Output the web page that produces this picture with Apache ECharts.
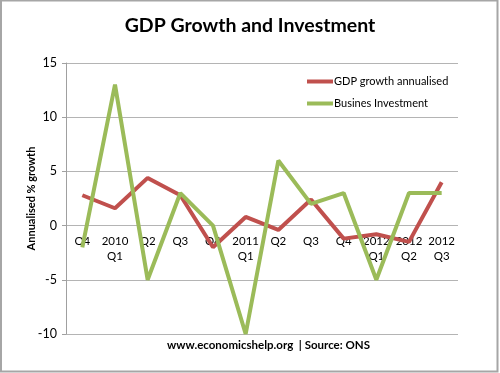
<!DOCTYPE html>
<html><head><meta charset="utf-8">
<script src="https://cdn.jsdelivr.net/npm/echarts@6/dist/echarts.min.js"></script>
<style>html,body{margin:0;padding:0;background:#fff}#c{width:500px;height:373px}</style>
</head><body><div id="c"></div>
<script>
var categories = ['Q4','2010\nQ1','Q2','Q3','Q4','2011\nQ1','Q2','Q3','Q4','2012\nQ1','2012\nQ2','2012\nQ3'];
var gdpGrowth = [2.8, 1.6, 4.4, 2.8, -2.0, 0.8, -0.4, 2.4, -1.2, -0.8, -1.5, 4.0];
var businessInvestment = [-2, 13, -5, 3, 0, -10, 6, 2, 3, -5, 3, 3];
var yTicks = [-10, -5, 0, 5, 10, 15];
var FONT = 'Lato, "Open Sans", sans-serif';
var GRID_TOP = 63, GRID_BOTTOM = 39, H = 373;
var chart = echarts.init(document.getElementById('c'));
var option = {
  animation: false,
  backgroundColor: '#fff',
  graphic: [
    {type:'rect', shape:{x:1, y:0.5, width:496.5, height:371}, style:{fill:'none', stroke:'#a6a6a6', lineWidth:2}, silent:true},
    {type:'text', left:167, top:339, style:{text:'www.economicshelp.org  | Source: ONS', fontFamily:FONT, fontSize:11.5, fontWeight:'bold', fill:'#000'}}
  ],
  title: {text:'GDP Growth and Investment', left:'center', top:11, textStyle:{fontFamily:FONT, fontSize:19.5, fontWeight:'bold', color:'#000'}},
  legend: {
    orient:'vertical', left:302, top:71, itemGap:11, itemWidth:26, itemHeight:10,
    icon:'path://M0,3L26,3L26,7L0,7Z',
    textStyle:{fontFamily:FONT, fontSize:11, color:'#000', padding:[0,0,0,-4]},
    data:['GDP growth annualised','Busines Investment']
  },
  grid: {left:66, right:42, top:GRID_TOP, bottom:GRID_BOTTOM, containLabel:false},
  xAxis: {
    type:'category', data:categories, boundaryGap:true, offset:0,
    axisLine:{show:false, onZero:false}, axisTick:{show:false},
    axisLabel:{fontFamily:FONT, fontSize:11.5, color:'#000', lineHeight:15, margin:8, interval:0}
  },
  yAxis: {
    type:'value', min:-10, max:15, interval:5,
    name:'Annualised % growth', nameLocation:'middle', nameGap:29, nameRotate:90, nameMoveOverlap:false,
    nameTextStyle:{fontFamily:FONT, fontSize:11, fontWeight:'bold', color:'#000'},
    axisLine:{show:true, lineStyle:{color:'#a0a0a0', width:1}},
    axisTick:{show:true, length:4, lineStyle:{color:'#a0a0a0'}},
    axisLabel:{fontFamily:FONT, fontSize:12.5, color:'#000', margin:9,
      formatter:function(v){return yTicks.indexOf(v)>=0 ? String(v) : '';}},
    splitLine:{lineStyle:{color:'#b4b4b4', width:1}}
  },
  series: [
    {name:'GDP growth annualised', type:'line', data:gdpGrowth, symbol:'none', color:'#c0504d', lineStyle:{width:4, color:'#c0504d'}, z:2},
    {name:'Busines Investment', type:'line', data:businessInvestment, symbol:'none', color:'#9bbb59', lineStyle:{width:4, color:'#9bbb59'}, z:3}
  ]
};
chart.setOption(option);
// Move the category labels up to the zero line (position from the value axis scale)
var zeroY = chart.convertToPixel({yAxisIndex:0}, 0);
var bottomY = H - GRID_BOTTOM;
chart.setOption({xAxis:{offset: -(bottomY - zeroY)}});
</script></body></html>
